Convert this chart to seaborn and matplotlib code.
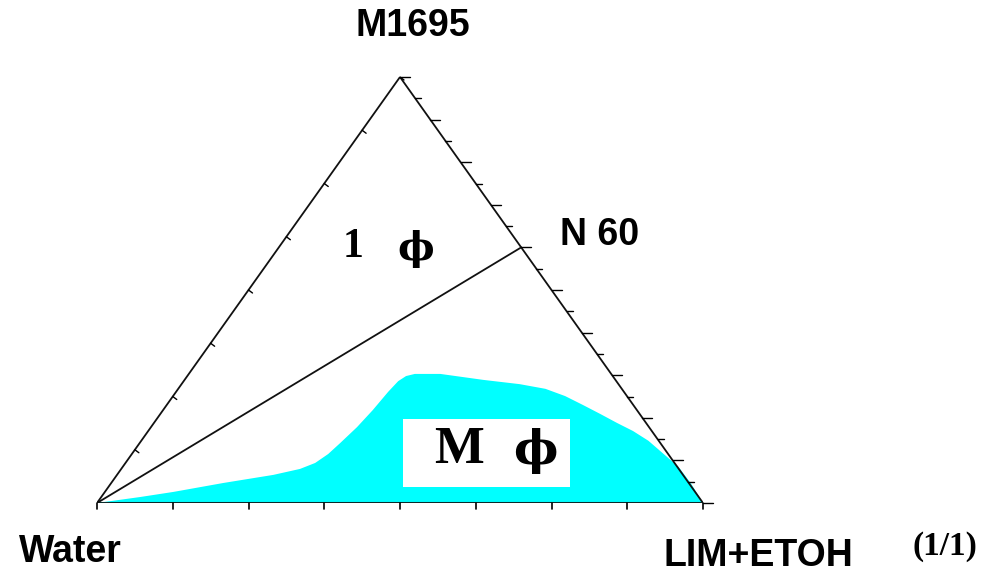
import numpy as np
import matplotlib
matplotlib.use("Agg")
import matplotlib.pyplot as plt
from matplotlib.patches import Rectangle
import seaborn as sns
import pandas as pd

# ---------------- data (ternary fractions) ----------------
vertex_labels = ["Water", "LIM+ETOH", "M1695"]
ratio_label = "(1/1)"
tie_point_label = "N 60"
tie_point_M = 0.60            # M1695 fraction of N60 point on LIM+ETOH/M1695 edge
region_prefix = ["1", "M"]
phase_symbol = "\u03d5"

# multiphase region boundary: LIM+ETOH fraction and M1695 fraction
mp_L = [0.000, 0.064, 0.113, 0.185, 0.258, 0.295, 0.313, 0.324, 0.331, 0.340,
        0.346, 0.350, 0.354, 0.361, 0.373, 0.415, 0.493, 0.558, 0.606, 0.647,
        0.687, 0.726, 0.764, 0.800, 0.837, 0.875, 0.917, 0.958, 1.000]
mp_M = [0.000, 0.014, 0.026, 0.047, 0.066, 0.080, 0.094, 0.115, 0.141, 0.178,
        0.218, 0.261, 0.286, 0.298, 0.303, 0.303, 0.289, 0.279, 0.268, 0.251,
        0.230, 0.209, 0.188, 0.169, 0.146, 0.117, 0.085, 0.045, 0.000]

bottom_divisions = 8
left_divisions = 8
right_divisions = 20

# ---------------- helpers ----------------
def tern(L, M):
    L = np.asarray(L, float); M = np.asarray(M, float)
    return L + M / 2.0, M

W, H = 989, 576
fig = plt.figure(figsize=(W / 100, H / 100), dpi=100)
sns.set_theme(style="white")
plt.rcParams['font.family'] = ['Liberation Sans', 'DejaVu Sans']

# axes placed so the triangle spans its drawing area
ax = fig.add_axes([97 / W, (H - 503) / H, 606 / W, 426 / H])
ax.set_xlim(0, 1)
ax.set_ylim(0, 1)
ax.axis("off")

px_x = 1 / 606.0   # one pixel in data x
px_y = 1 / 426.0   # one pixel in data y

# multiphase region
bx, by = tern(mp_L, mp_M)
ax.fill(bx, by, color="#00FFFF", lw=0, zorder=1)

# triangle outline
tri = pd.DataFrame({"x": [0, 1, 0.5, 0], "y": [0, 0, 1, 0]})
sns.lineplot(data=tri, x="x", y="y", sort=False, estimator=None, color="#111111",
             lw=1.3, ax=ax, zorder=3)
ax.plot([0, 1], [0, 0], color="#0b2a2a", lw=2.2, zorder=3, solid_capstyle="butt")

# tie line Water -> N60
nx, ny = tern(1 - tie_point_M, tie_point_M)
tie = pd.DataFrame({"x": [0, float(nx)], "y": [0, float(ny)]})
sns.lineplot(data=tie, x="x", y="y", sort=False, estimator=None, color="#111111",
             lw=1.3, ax=ax, zorder=3)

# ticks: bottom
for k in range(bottom_divisions + 1):
    x = k / bottom_divisions
    ax.plot([x, x], [0, -6 * px_y], color="black", lw=1.2, clip_on=False, zorder=3)
# ticks: left edge
for k in range(1, left_divisions + 1):
    m = k / left_divisions
    x, y = tern(0, m)
    ax.plot([x, x + 4 * px_x], [y, y - 3 * px_y], color="black", lw=1.0,
            clip_on=False, zorder=3)
# ticks: right edge (horizontal, to the right)
for k in range(right_divisions + 1):
    m = k / right_divisions
    x, y = tern(1 - m, m)
    ln = 10 if k % 2 == 0 else 6
    ax.plot([x, x + ln * px_x], [y, y], color="black", lw=1.0,
            clip_on=False, zorder=3)

# ---------------- texts ----------------
def fx(x): return x / W
def fy(y): return 1 - y / H

sans_bold = dict(fontweight="bold", family=['Liberation Sans', 'DejaVu Sans'],
                 ha="center", va="center", color="black")
serif_bold = dict(fontweight="bold", family=['Liberation Serif', 'DejaVu Serif'],
                  ha="center", va="center", color="black")
phi_font = dict(fontweight="bold", family=['DejaVu Serif'],
                ha="center", va="center", color="black")

fig.text(fx(413), fy(26), vertex_labels[2], fontsize=27, **sans_bold)
fig.text(fx(600), fy(235), tie_point_label, fontsize=27, **sans_bold)
fig.text(fx(70), fy(552), vertex_labels[0], fontsize=27, **sans_bold)
fig.text(fx(758), fy(556), vertex_labels[1], fontsize=27, **sans_bold)
fig.text(fx(945), fy(547), ratio_label, fontsize=24, **serif_bold)

# one-phase label
fig.text(fx(353), fy(247), region_prefix[0], fontsize=30, **serif_bold)
fig.text(fx(416), fy(249), phase_symbol, fontsize=28, **phi_font)

# multiphase label on white box
fig.add_artist(Rectangle((fx(403), fy(487)), (570 - 403) / W, (487 - 419) / H,
                         transform=fig.transFigure, facecolor="white",
                         edgecolor="none", zorder=5))
fig.text(fx(459), fy(450), region_prefix[1], fontsize=38, zorder=6, **serif_bold)
fig.text(fx(535), fy(451), phase_symbol, fontsize=34, zorder=6, **phi_font)

fig.savefig("out.png", dpi=100)
